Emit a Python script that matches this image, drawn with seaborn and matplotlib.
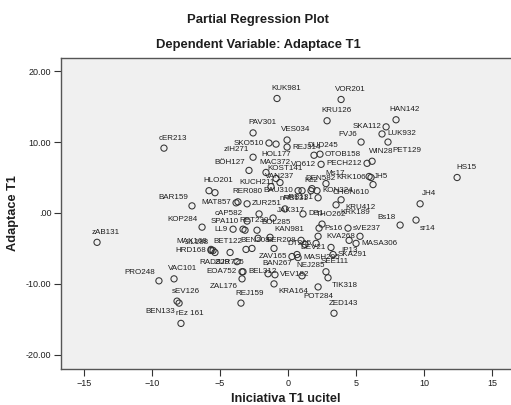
import matplotlib
matplotlib.use("Agg")
import matplotlib.pyplot as plt
import seaborn as sns
import pandas as pd

# Case labels and partial-regression residuals
case_labels = [
    "KUK981", "VOR201", "KRU126", "HAN142", "SKA112", "LUK932", "FVJ6", "PET129", "WIN28", "PECH212",
    "PAV301", "VES034", "cER213", "SKO510", "HOL177", "REJ314", "DUD245", "OTOB158", "zIH271", "BÖH127",
    "MAC372", "VO612", "KOST141", "VAN237", "DEN582", "Ms17", "KRK106", "JH5", "HS15", "CHON610",
    "KON324", "HLO201", "KUCH211", "BAU310", "Kc2", "nRB131", "uRB131", "JAK317", "DB1", "THO262",
    "KRK189", "KRU412", "Bs18", "JH4", "sr14", "Ps16", "sVE237", "KVA268", "MASA306", "IP13",
    "SKA291", "DEV21", "MASH295", "SEE111", "NEJ285", "BAN267", "ZAV165", "BER208", "DT205", "BEN208",
    "BET122", "LL9", "RET230", "BOL285", "KAN981", "SPA110", "cAP582", "MAT857", "RER080", "ZUR251",
    "BAR159", "KOP284", "zAB131", "HRD168", "RAD829", "MAX168", "JIL188", "ZUR725", "EOA752", "BEL312",
    "ZAL176", "REJ159", "VEV182", "KRA164", "POT284", "TIK318", "ZED143", "PRO248", "VAC101", "sEV126",
    "BEN133", "rEz 161",
    "", "", "", "", "", "", "", "", "",
]

initiative_resid = [
    -0.81, 3.90, 2.87, 7.94, 7.21, 6.91, 5.37, 7.35, 6.18, 5.81,
    -2.57, -0.07, -9.12, -1.40, -0.88, -0.07, 1.91, 2.35, -2.57, -2.87,
    -1.62, 2.43, -0.88, -1.25, 1.76, 2.79, 6.10, 5.96, 12.43, 6.25,
    2.13, -5.81, -0.59, 0.74, 1.03, -0.22, 2.21, -1.10, 1.10, 2.50,
    3.53, 3.90, 8.24, 9.71, 9.41, 2.28, 4.41, 5.29, 5.00, 4.49,
    3.31, 3.16, 0.74, 2.79, 1.03, -1.47, 0.29, 0.96, 2.06, -1.03,
    -3.09, -4.04, -3.16, -2.28, -1.32, -3.31, -3.01, -3.82, -3.68, -3.01,
    -7.06, -6.32, -14.04, -5.66, -5.37, -5.66, -5.51, -4.26, -3.38, -3.31,
    -3.38, -3.46, -0.96, -1.03, 2.21, 2.94, 3.38, -9.49, -8.38, -8.16,
    -8.01, -7.87,
    -5.37, -2.13, 2.21, 1.25, 0.66, -2.21, -2.65, -3.75, 1.69,
]

adaptation_resid = [
    16.14, 16.00, 13.00, 13.14, 12.14, 11.14, 10.00, 10.00, 7.29, 7.00,
    11.29, 10.29, 9.14, 9.86, 9.71, 9.29, 8.14, 8.29, 7.86, 6.00,
    5.71, 6.86, 4.86, 3.71, 3.43, 4.14, 5.00, 5.14, 5.00, 4.00,
    3.14, 3.14, 4.29, 3.14, 3.14, 0.57, 2.14, -0.71, -0.14, -1.57,
    1.14, 1.86, -1.71, 1.29, -1.00, -2.14, -2.14, -3.29, -4.29, -3.86,
    -5.86, -4.86, -6.29, -8.29, -8.86, -8.57, -6.14, -3.86, -4.29, -5.00,
    -5.14, -2.29, -2.43, -2.43, -3.43, -2.29, -1.14, 1.43, 1.57, 1.29,
    1.00, -2.00, -4.14, -5.29, -5.57, -5.14, -5.29, -5.57, -8.29, -8.29,
    -9.29, -12.71, -8.71, -10.00, -10.43, -9.14, -14.14, -9.57, -9.29, -12.43,
    -12.71, -15.57,
    2.86, -0.14, -3.29, -4.43, -5.86, -3.57, -5.00, -6.86, 3.14,
]

# Where each case label sits relative to its marker
label_side = [
    "a", "a", "a", "a", "l", "r", "ul", "br", "a", "l",
    "a", "a", "a", "l", "b", "r", "a", "r", "ul", "ul",
    "a", "l", "a", "a", "a", "a", "l", "r", "a", "bl",
    "r", "a", "l", "l", "a", "a", "l", "ur", "r", "a",
    "br", "br", "ul", "a", "br", "r", "r", "l", "r", "b",
    "r", "l", "r", "a", "a", "a", "l", "l", "l", "ul",
    "ul", "l", "a", "ur", "ur", "ul", "ul", "l", "a", "r",
    "ul", "ul", "a", "l", "b", "ul", "ul", "b", "l", "r",
    "bl", "a", "r", "br", "b", "br", "a", "ul", "a", "a",
    "bl", "a",
    "n", "n", "n", "n", "n", "n", "n", "n", "n",
]

side_offsets = {
    "a": ((9, 10), "center"),
    "b": ((0, -10), "center"),
    "l": ((-5, 0), "right"),
    "r": ((5, 0), "left"),
    "ul": ((-4, 8), "right"),
    "ur": ((4, 8), "left"),
    "bl": ((-4, -8), "right"),
    "br": ((4, -8), "left"),
}

df = pd.DataFrame({
    "case": case_labels,
    "Iniciativa T1 ucitel": initiative_resid,
    "Adaptace T1": adaptation_resid,
})

sns.set_style("white")
plt.rcParams["font.family"] = ["Liberation Sans", "DejaVu Sans"]

fig = plt.figure(figsize=(5.11, 4.05), dpi=100)
fig.patch.set_facecolor("white")
# the plotting frame runs on past the right edge of the canvas
ax = fig.add_axes([61 / 511, 36 / 405, 455 / 511, 311 / 405])
ax.set_facecolor("#f0f0f0")

sns.scatterplot(data=df, x="Iniciativa T1 ucitel", y="Adaptace T1", ax=ax,
                marker="o", s=20, linewidth=0.75, edgecolor="#333333",
                legend=False, zorder=3)
ax.collections[0].set_facecolor("none")
ax.collections[0].set_edgecolor("#333333")

for name, xv, yv, side in zip(case_labels, initiative_resid, adaptation_resid, label_side):
    if side == "n" or not name:
        continue
    offset, ha = side_offsets[side]
    ax.annotate(name, (xv, yv), xytext=offset, textcoords="offset pixels",
                ha=ha, va="center", fontsize=5.8, color="#1e1e1e", zorder=4)

ax.set_xlim(-16.69, 16.76)
ax.set_ylim(-22.0, 21.85)
ax.set_xticks([-15, -10, -5, 0, 5, 10, 15])
ax.set_yticks([20, 10, 0, -10, -20])
ax.set_yticklabels(["20.00", "10.00", ".00", "-10.00", "-20.00"])
ax.tick_params(axis="both", direction="out", length=5, width=0.8, color="#333333",
               labelsize=6.5, labelcolor="#1e1e1e", pad=2,
               bottom=True, left=True, top=False, right=False)
for sp in ax.spines.values():
    sp.set_color("#555555")
    sp.set_linewidth(1.0)

ax.set_xlabel("Iniciativa T1 ucitel", fontsize=9.2, fontweight="bold", color="#1e1e1e")
ax.xaxis.label.set_va("center")
ax.xaxis.set_label_coords(225 / 455, -30 / 311)
ax.set_ylabel("Adaptace T1", fontsize=9.2, fontweight="bold", color="#1e1e1e")
ax.yaxis.label.set_va("center")
ax.yaxis.set_label_coords(-48 / 455, 0.5)

fig.text(258 / 511, 1 - 20 / 405, "Partial Regression Plot", ha="center", va="center",
         fontsize=9.4, fontweight="bold", color="#1e1e1e")
fig.text(258 / 511, 1 - 45 / 405, "Dependent Variable: Adaptace T1", ha="center", va="center",
         fontsize=9.4, fontweight="bold", color="#1e1e1e")

fig.savefig("out.png", dpi=100)
